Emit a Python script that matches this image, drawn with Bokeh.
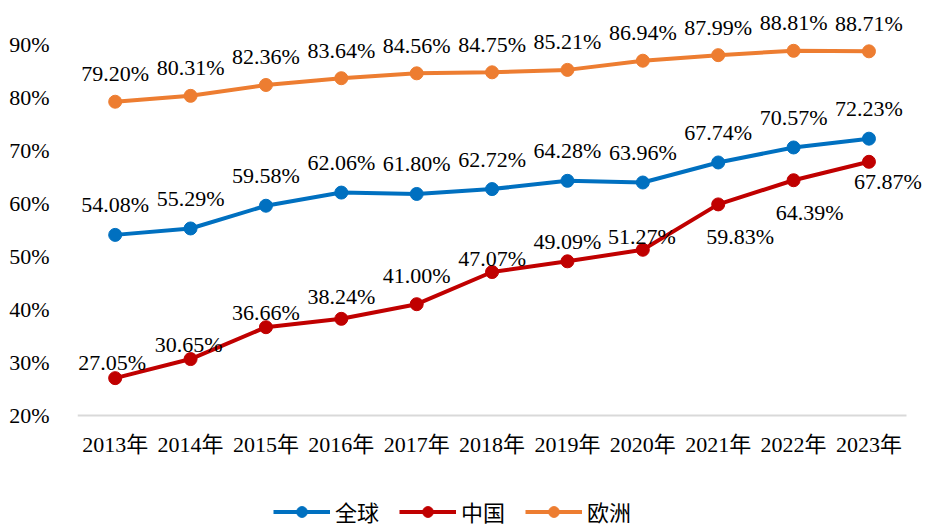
from bokeh.plotting import figure
from bokeh.models import ColumnDataSource, FixedTicker, Legend, LegendItem, Range1d
from bokeh.core.properties import value
from bokeh.embed import file_html
from bokeh.resources import INLINE

years = ["2013年", "2014年", "2015年", "2016年", "2017年", "2018年",
         "2019年", "2020年", "2021年", "2022年", "2023年"]
global_vals = [54.08, 55.29, 59.58, 62.06, 61.80, 62.72, 64.28, 63.96, 67.74, 70.57, 72.23]
china_vals = [27.05, 30.65, 36.66, 38.24, 41.00, 47.07, 49.09, 51.27, 59.83, 64.39, 67.87]
europe_vals = [79.20, 80.31, 82.36, 83.64, 84.56, 84.75, 85.21, 86.94, 87.99, 88.81, 88.71]
y_ticks = [20, 30, 40, 50, 60, 70, 80, 90]

# label placement (screen offsets, style only)
china_dx = [-3, -2, 0, 0, 0, 0, 0, -1, 22, 16, 19]
china_dy = [16, 15, 15, 22, 29, 14, 20, 13, -32, -32, -20]

SERIF = "Liberation Serif, 'Noto Sans CJK SC', serif"
FS = "22px"
BLUE = "#0070C0"
RED = "#C00000"
ORANGE = "#ED7D31"

xs = list(range(len(years)))

p = figure(x_range=Range1d(-0.5, 10.79), y_range=Range1d(-1.13, 98.3),
           width=928, height=527, output_backend="svg", toolbar_location=None,
           min_border_left=77, min_border_right=0, min_border_top=0,
           min_border_bottom=0)
p.outline_line_color = None
p.xgrid.grid_line_color = None
p.ygrid.grid_line_color = None

p.yaxis.ticker = FixedTicker(ticks=y_ticks)
p.yaxis.major_label_overrides = {t: f"{t}%" for t in y_ticks}
p.yaxis.axis_line_color = None
p.yaxis.major_tick_line_color = None
p.yaxis.minor_tick_line_color = None
p.yaxis.major_label_standoff = 22
p.yaxis.major_label_text_font = SERIF
p.yaxis.major_label_text_font_size = FS
p.yaxis.major_label_text_color = "#000000"

p.xaxis.ticker = FixedTicker(ticks=xs)
p.xaxis.major_label_overrides = {i: y for i, y in zip(xs, years)}
p.xaxis.fixed_location = y_ticks[0]
p.xaxis.bounds = (-0.5, len(years) - 0.5)
p.xaxis.axis_line_color = "#D9D9D9"
p.xaxis.axis_line_width = 2
p.xaxis.major_tick_line_color = None
p.xaxis.minor_tick_line_color = None
p.xaxis.major_label_standoff = 10
p.xaxis.major_label_text_font = SERIF
p.xaxis.major_label_text_font_size = FS
p.xaxis.major_label_text_color = "#000000"

def fmt(vals):
    return [f"{v:.2f}%" for v in vals]

items = []
for name, vals, color in [("全球", global_vals, BLUE), ("中国", china_vals, RED), ("欧洲", europe_vals, ORANGE)]:
    src = ColumnDataSource(dict(x=xs, y=vals))
    ln = p.line("x", "y", source=src, line_color=color, line_width=4)
    sc = p.scatter("x", "y", source=src, size=13, fill_color=color, line_color=color)
    items.append(LegendItem(label=name, renderers=[ln, sc]))

src_g = ColumnDataSource(dict(x=xs, y=global_vals, lab=fmt(global_vals)))
p.text("x", "y", text="lab", source=src_g, y_offset=-30, text_align="center",
       text_baseline="middle", text_font=value(SERIF), text_font_size=FS, text_color="#000000")
src_e = ColumnDataSource(dict(x=xs, y=europe_vals, lab=fmt(europe_vals)))
p.text("x", "y", text="lab", source=src_e, y_offset=-28, text_align="center",
       text_baseline="middle", text_font=value(SERIF), text_font_size=FS, text_color="#000000")
src_c = ColumnDataSource(dict(x=xs, y=china_vals, lab=fmt(china_vals),
                              dx=china_dx, dy=[-d for d in china_dy]))
p.text("x", "y", text="lab", source=src_c, x_offset="dx", y_offset="dy", text_align="center",
       text_baseline="middle", text_font=value(SERIF), text_font_size=FS, text_color="#000000")

legend = Legend(items=items, orientation="horizontal", location=(196, 0),
                glyph_width=57, glyph_height=27, label_standoff=5, spacing=20,
                padding=0, margin=0, border_line_color=None, background_fill_alpha=0,
                label_text_font=SERIF, label_text_font_size=FS, label_text_color="#000000")
p.add_layout(legend, "center")

open("out.html", "w").write(file_html(p, INLINE))
